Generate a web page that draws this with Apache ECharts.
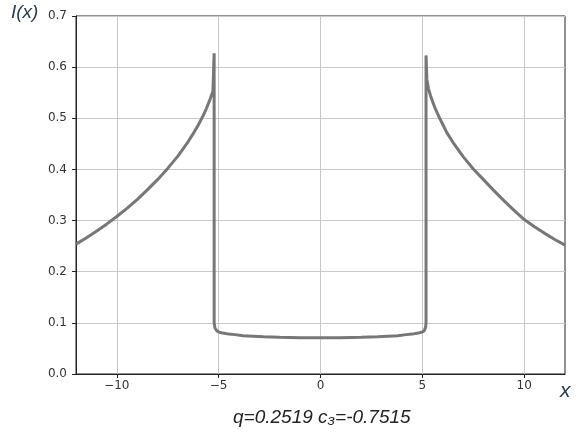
<!DOCTYPE html>
<html>
<head>
<meta charset="utf-8">
<script src="https://cdn.jsdelivr.net/npm/echarts@6/dist/echarts.min.js"></script>
<style>
  html, body { margin: 0; padding: 0; background: #fff; }
  #chart { width: 578px; height: 444px; }
</style>
</head>
<body>
<div id="chart"></div>
<script>
// I(x) profile
const xValues = [
  -12, -11.5, -11, -10.5, -10, -9.5, -9, -8.5, -8, -7.5, -7, -6.5, -6.2, -6, -5.8, -5.6, -5.45, -5.35, -5.28, -5.22,
  -5.22, -5.18, -5.1, -5.0, -4.8, -4.5, -4.2, -3.8, -3.3, -2.8, -2, -1, 0, 1, 2, 2.8, 3.3, 3.8, 4.2, 4.5, 4.8, 5.0, 5.1, 5.16,
  5.18, 5.18, 5.22, 5.3, 5.4, 5.6, 5.85, 6.2, 6.5, 7, 7.5, 8, 8.5, 9, 9.5, 10, 10.5, 11, 11.5, 12
];
const yValues = [
  0.254, 0.266, 0.279, 0.293, 0.308, 0.324, 0.341, 0.360, 0.380, 0.402, 0.426, 0.454, 0.473, 0.487, 0.502, 0.519, 0.534, 0.545, 0.553, 0.627,
  0.100, 0.090, 0.085, 0.082, 0.080, 0.078, 0.077, 0.075, 0.074, 0.073, 0.072, 0.071, 0.071, 0.071, 0.072, 0.073, 0.074, 0.075, 0.077, 0.078, 0.080, 0.082, 0.085, 0.092,
  0.100, 0.623, 0.576, 0.558, 0.544, 0.522, 0.500, 0.472, 0.453, 0.425, 0.401, 0.380, 0.359, 0.339, 0.320, 0.302, 0.288, 0.275, 0.263, 0.252
];
const xTicks = [-10, -5, 0, 5, 10];
const caption = 'q=0.2519 c₃=-0.7515';

const chart = echarts.init(document.getElementById('chart'));
const points = xValues.map((x, i) => [x, yValues[i]]);

const option = {
  backgroundColor: '#fff',
  animation: false,
  grid: {
    left: 76, right: 13, top: 16, bottom: 70,
    show: true, borderColor: '#222', borderWidth: 1
  },
  xAxis: {
    type: 'value', min: -12, max: 12,
    axisLine: { show: true, onZero: false, lineStyle: { color: '#222' } },
    axisTick: { show: true, length: 4, customValues: xTicks, lineStyle: { color: '#222' } },
    axisLabel: {
      customValues: xTicks, color: '#333', fontSize: 12, fontFamily: 'DejaVu Sans', margin: 6,
      formatter: v => (v < 0 ? '\u2212' + Math.abs(v) : String(v))
    },
    splitLine: { show: true, lineStyle: { color: '#c8c8c8', width: 1 } }
  },
  yAxis: {
    type: 'value', min: 0, max: 0.7, interval: 0.1,
    axisLine: { show: true, onZero: false, lineStyle: { color: '#222' } },
    axisTick: { show: true, length: 4, lineStyle: { color: '#222' } },
    axisLabel: { color: '#333', fontSize: 12, fontFamily: 'DejaVu Sans', margin: 9, formatter: v => v.toFixed(1) },
    splitLine: { show: true, lineStyle: { color: '#c8c8c8', width: 1 } }
  },
  series: [{
    type: 'line',
    data: points,
    showSymbol: false,
    symbol: 'none',
    lineStyle: { color: '#777', width: 3 },
    itemStyle: { color: '#777' }
  }],
  graphic: [
    {
      type: 'text', left: 11, top: 3,
      style: { text: 'I(x)', fill: '#2b3a55', font: 'italic 19px "Liberation Sans"' }
    },
    {
      type: 'text', left: 560, top: 381,
      style: { text: 'x', fill: '#2b3a55', font: 'italic 21px "Liberation Sans"' }
    },
    {
      type: 'text', left: 233, top: 408,
      style: { text: caption, fill: '#222', font: 'italic 19px "Liberation Sans"' }
    }
  ]
};
chart.setOption(option);
</script>
</body>
</html>
